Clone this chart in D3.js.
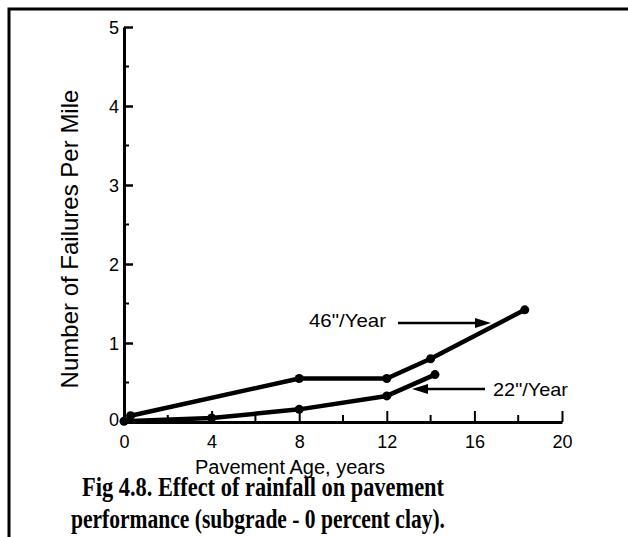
<!DOCTYPE html>
<html lang="en">
<head>
  <meta charset="UTF-8">
  <title>Fig 4.8 Effect of rainfall</title>
<script src="https://d3js.org/d3.v7.min.js"></script>
<style>
  body { margin: 0; background: #fff; }
  text { font-family: "Liberation Sans", Arial, Helvetica, sans-serif; fill: #000; }
  .cap { font-family: "Liberation Serif", "Times New Roman", serif; font-weight: bold; }
</style>
</head>
<body>
<div id="chart"></div>

  <script>

const rain46Age = [0.3, 8, 12, 14, 18.3];
const rain46Fail = [0.08, 0.55, 0.55, 0.8, 1.42];
const rain22Age = [0, 4, 8, 12, 14.2];
const rain22Fail = [0.01, 0.05, 0.16, 0.33, 0.6];
const xTicks = [0, 4, 8, 12, 16, 20];
const yTicks = [0, 1, 2, 3, 4, 5];

const width = 628;
const height = 537;

const x = d3.scaleLinear().domain([0, 20]).range([124, 562]);
const y = d3.scaleLinear().domain([0, 5]).range([422, 27]);

const svg = d3.select('#chart')
  .append('svg')
  .attr('width', width)
  .attr('height', height);

// page frame (scan border)
svg.append('path')
  .attr('d', 'M9,537 V9 H628')
  .attr('fill', 'none')
  .attr('stroke', '#000')
  .attr('stroke-width', 3);

// minor ticks first, then the axes with major ticks
const axisG = svg.append('g');

axisG.selectAll('.xminor')
  .data(d3.range(2, 20, 4))
  .enter()
  .append('line')
  .attr('x1', d => x(d)).attr('x2', d => x(d))
  .attr('y1', y(0)).attr('y2', y(0) - 7)
  .attr('stroke', '#000').attr('stroke-width', 2);

axisG.selectAll('.yminor')
  .data(d3.range(0.5, 5, 1))
  .enter()
  .append('line')
  .attr('x1', x(0)).attr('x2', x(0) + 5)
  .attr('y1', d => y(d)).attr('y2', d => y(d))
  .attr('stroke', '#000').attr('stroke-width', 2);

const xAxis = axisG.append('g')
  .attr('transform', `translate(0,${y(0)})`)
  .call(d3.axisTop(x).tickValues(xTicks).tickSize(11).tickSizeOuter(0).tickFormat(d3.format('d')));
xAxis.select('.domain').attr('stroke-width', 3);
xAxis.selectAll('.tick line').attr('stroke-width', 2);
xAxis.selectAll('.tick text')
  .attr('y', 26)
  .attr('dy', 0)
  .style('font-size', '18px');

const yAxis = axisG.append('g')
  .attr('transform', `translate(${x(0)},0)`)
  .call(d3.axisRight(y).tickValues(yTicks).tickSize(9).tickSizeOuter(0).tickFormat(d3.format('d')));
yAxis.select('.domain').attr('stroke-width', 3);
yAxis.selectAll('.tick line').attr('stroke-width', 2.5);
yAxis.selectAll('.tick text')
  .attr('x', -5)
  .attr('text-anchor', 'end')
  .attr('dy', '0.35em')
  .style('font-size', '18px');
yAxis.selectAll('.tick').filter(d => d === 0).select('text').attr('dy', '0.2em');

// series
const line = d3.line().x(d => x(d[0])).y(d => y(d[1]));
const series = [
  d3.zip(rain46Age, rain46Fail),
  d3.zip(rain22Age, rain22Fail)
];

series.forEach(pts => {
  svg.append('path')
    .datum(pts)
    .attr('d', line)
    .attr('fill', 'none')
    .attr('stroke', '#000')
    .attr('stroke-width', 4.5)
    .attr('stroke-linejoin', 'round');
  svg.selectAll(null)
    .data(pts)
    .enter()
    .append('circle')
    .attr('cx', d => x(d[0]))
    .attr('cy', d => y(d[1]))
    .attr('r', 4.5)
    .attr('fill', '#000');
});

// labels with arrows
function arrow(x1, x2, yy) {
  const dir = Math.sign(x2 - x1);
  svg.append('line')
    .attr('x1', x1).attr('x2', x2 - dir * 12)
    .attr('y1', yy).attr('y2', yy)
    .attr('stroke', '#000').attr('stroke-width', 2.5);
  svg.append('path')
    .attr('d', `M${x2},${yy} L${x2 - dir * 16},${yy - 5} L${x2 - dir * 16},${yy + 5} Z`)
    .attr('fill', '#000');
}

svg.append('text')
  .attr('x', 309).attr('y', 327)
  .style('font-size', '19px')
  .attr('textLength', 77)
  .attr('lengthAdjust', 'spacingAndGlyphs')
  .text('46"/Year');
arrow(398, 491, 323);

svg.append('text')
  .attr('x', 493).attr('y', 396)
  .style('font-size', '19px')
  .attr('textLength', 75)
  .attr('lengthAdjust', 'spacingAndGlyphs')
  .text('22"/Year');
arrow(485, 412, 389);

// axis titles
svg.append('text')
  .attr('x', 290).attr('y', 474)
  .attr('text-anchor', 'middle')
  .style('font-size', '20px')
  .text('Pavement Age, years');

svg.append('text')
  .attr('transform', 'translate(78,239) rotate(-90)')
  .attr('text-anchor', 'middle')
  .style('font-size', '24px')
  .text('Number of Failures Per Mile');

// caption
svg.append('text')
  .attr('class', 'cap')
  .attr('x', 82).attr('y', 496)
  .style('font-size', '28px')
  .attr('textLength', 362)
  .attr('lengthAdjust', 'spacingAndGlyphs')
  .text('Fig 4.8.  Effect of rainfall on pavement');

svg.append('text')
  .attr('class', 'cap')
  .attr('x', 71).attr('y', 528)
  .style('font-size', '28px')
  .attr('textLength', 374)
  .attr('lengthAdjust', 'spacingAndGlyphs')
  .text('performance (subgrade - 0 percent clay).');

  </script>
</body>
</html>
